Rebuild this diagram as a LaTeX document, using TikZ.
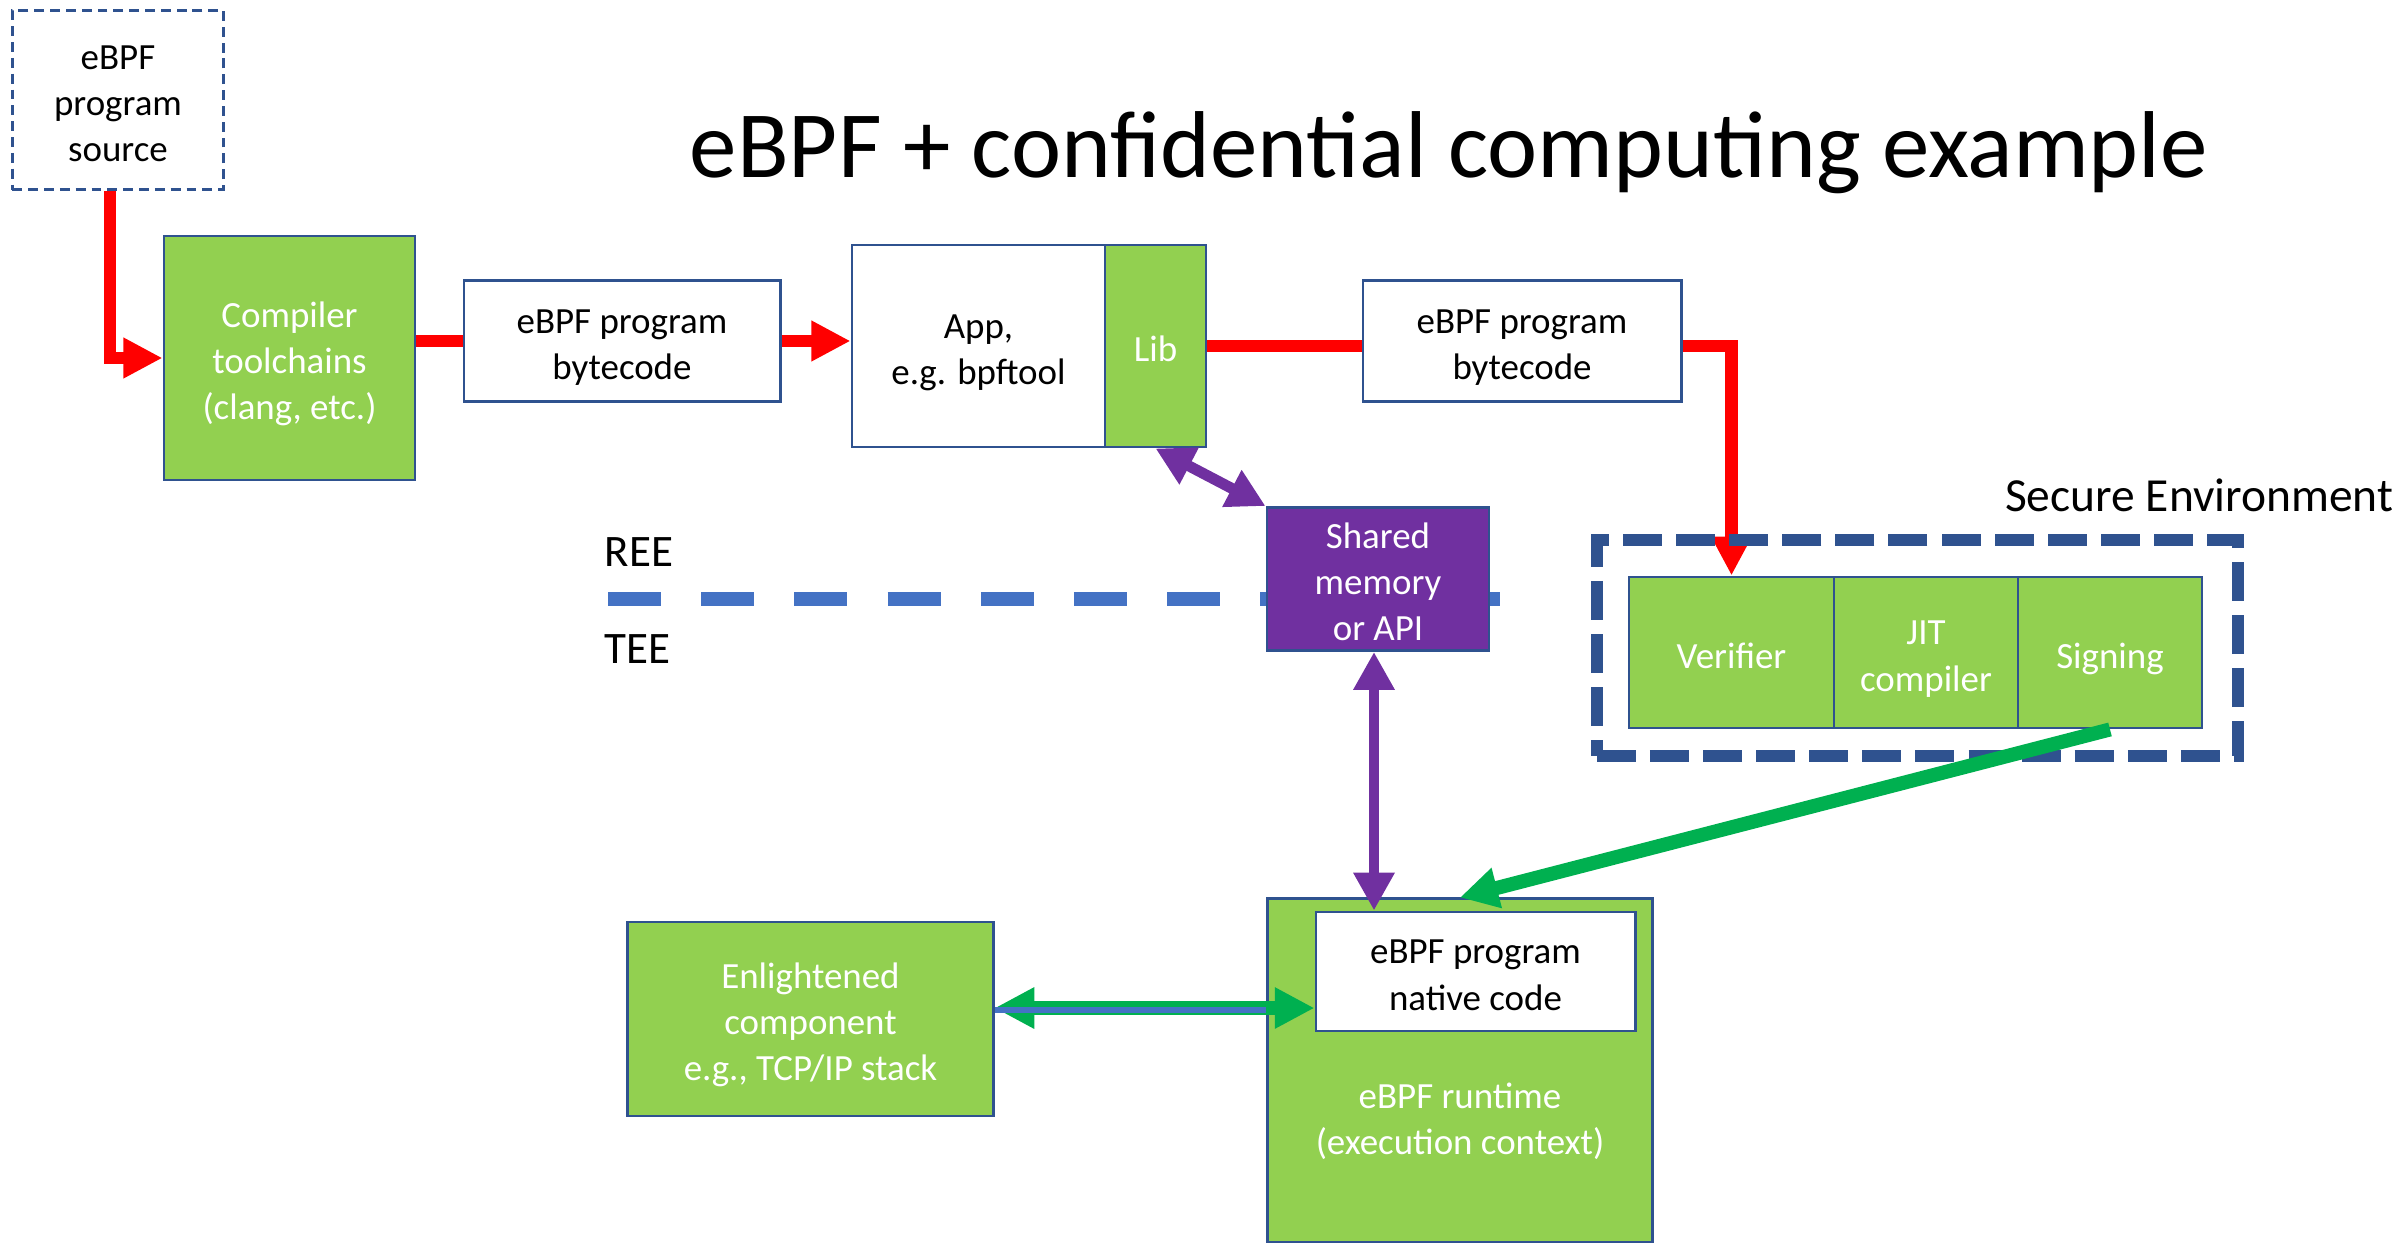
\documentclass[tikz,border=0pt]{standalone}
\usepackage{fontspec}
\setmainfont{Carlito}
\usetikzlibrary{arrows.meta,backgrounds}

\definecolor{boxblue}{HTML}{2F528F}
\definecolor{leafgreen}{HTML}{92D050}
\definecolor{arrowgreen}{HTML}{00B050}
\definecolor{shmpurple}{HTML}{7030A0}
\definecolor{sepblue}{HTML}{4472C4}
\definecolor{flowred}{HTML}{FF0000}

% fixed top and bottom extents so that every label block is centred the same way
\newcommand{\firstlinestrut}{\rule{0pt}{1.09em}}
\newcommand{\lastlinestrut}{\rule[-0.25em]{0pt}{0pt}}
\newcommand{\boxlabel}[1]{\firstlinestrut#1\lastlinestrut}

\tikzset{
  boxtext/.style={font=\fontsize{10.5}{13.2}\selectfont, align=center},
  box/.style={draw=boxblue, line width=0.8pt, inner xsep=2pt, inner ysep=0pt, boxtext},
  whitebox/.style={box, fill=white, text=black},
  greenbox/.style={box, fill=leafgreen, text=white},
  purplebox/.style={box, fill=shmpurple, text=white},
  sidelabel/.style={font=\fontsize{12.8}{15}\selectfont, inner sep=0pt},
  redflow/.style={draw=flowred, line width=3.6pt},
  redarrow/.style={redflow, -{Triangle[length=11.1pt,width=10.8pt]}},
  purplearrow/.style={draw=shmpurple, line width=3.1pt,
    {Triangle[length=10.8pt,width=11.1pt]}-{Triangle[length=10.8pt,width=11.1pt]}},
  greenarrow/.style={draw=arrowgreen, line width=4pt, -{Triangle[length=10.8pt,width=11.1pt]}},
  greendouble/.style={draw=arrowgreen, line width=4pt,
    {Triangle[length=11.3pt,width=11pt]}-{Triangle[length=11.3pt,width=11pt]}},
  innerblue/.style={draw=sepblue, line width=1.7pt},
  sepline/.style={draw=sepblue, line width=3.7pt, dash pattern=on 15.1pt off 11.4pt},
  securebox/.style={draw=boxblue, line width=3.5pt, dash pattern=on 11.1pt off 4pt,
    inner sep=0pt},
}

\begin{document}
\begin{tikzpicture}[x=0.01cm, y=-0.01cm]
\useasboundingbox (0,0) rectangle (2402,1243);

% title
\node[anchor=base, inner sep=0pt, font=\fontsize{27}{31}\selectfont] (title)
  at (1449,178) {eBPF + confidential computing example};

% untrusted side: source, toolchain, loader
\node[whitebox, dashed, line width=0.9pt, dash pattern=on 2.8pt off 1.7pt,
      minimum width=2.11cm, minimum height=1.79cm] (src) at (118,100)
      {\boxlabel{eBPF\\program\\source}};
\node[greenbox, minimum width=2.51cm, minimum height=2.44cm] (comp) at (289.5,358)
      {\boxlabel{Compiler\\toolchains\\(clang, etc.)}};
\node[whitebox, minimum width=3.16cm, minimum height=1.21cm] (bc1) at (622,341)
      {\boxlabel{eBPF program\\bytecode}};
\node[whitebox, minimum width=2.53cm, minimum height=2.02cm] (app) at (978.5,346)
      {\boxlabel{App,\\e.g. bpftool}};
\node[greenbox, minimum width=1.01cm, minimum height=2.02cm] (lib) at (1155.5,346)
      {\boxlabel{Lib}};
\node[whitebox, minimum width=3.18cm, minimum height=1.21cm] (bc2) at (1522,341)
      {\boxlabel{eBPF program\\bytecode}};

% boundary between REE and TEE
\node[sidelabel, anchor=base west] (ree) at (604,567) {REE};
\node[sidelabel, anchor=base west] (tee) at (604,663) {TEE};
\coordinate (sepL) at (608,599);
\coordinate (sepR) at (1501,599);
\node[purplebox, minimum width=2.22cm, minimum height=1.43cm] (shm) at (1378,579)
      {\boxlabel{Shared\\memory\\or API}};
\begin{scope}[on background layer]
  \draw[sepline] (sepL) -- (sepR);
\end{scope}

% secure environment
\node[greenbox, minimum width=2.05cm, minimum height=1.51cm] (ver) at (1731.5,652.5)
      {\boxlabel{Verifier}};
\node[greenbox, minimum width=1.84cm, minimum height=1.51cm] (jit) at (1926,652.5)
      {\boxlabel{JIT\\compiler}};
\node[greenbox, minimum width=1.84cm, minimum height=1.51cm] (sign) at (2110,652.5)
      {\boxlabel{Signing}};
\node[anchor=base east, inner sep=0pt, font=\fontsize{13.5}{16}\selectfont] (selabel)
      at (2394,512) {Secure Environment};

% trusted runtime
\node[greenbox, minimum width=3.84cm, minimum height=3.43cm] (runtime) at (1460,1070.5) {};
\node[boxtext, text=white, inner sep=0pt] (rtlabel) at (1460,1116)
      {\boxlabel{eBPF runtime\\(execution context)}};
\node[whitebox, minimum width=3.19cm, minimum height=1.19cm] (native) at (1475.5,971.5)
      {\boxlabel{eBPF program\\native code}};
\node[greenbox, minimum width=3.65cm, minimum height=1.94cm] (enl) at (810.5,1019)
      {\boxlabel{Enlightened\\component\\e.g., TCP/IP stack}};

% bytecode flow
\draw[redarrow] ([xshift=-0.08cm]src.south) |- (comp.west);
\draw[redflow] (comp.east |- bc1.west) -- (bc1.west);
\draw[redarrow] (bc1.east) -- (bc1.east -| app.west);
\draw[redflow] (lib.east) -- (lib.east -| bc2.west);
\draw[redarrow] (bc2.east |- lib.east) -| (ver.north);

\node[securebox, minimum width=6.41cm, minimum height=2.16cm] (secure) at (1917.5,648) {};

% shared memory links
\draw[purplearrow] (lib.south) -- (shm.north west);
\draw[purplearrow] ([xshift=-0.04cm]shm.south) -- ([xshift=-0.04cm]shm.south |- native.north);

% native code delivery and use
\draw[greenarrow] (sign.south) -- (runtime.north);
\coordinate (linkR) at ([yshift=-0.365cm]native.west);
\draw[greendouble] (enl.east |- linkR) -- (linkR);
\draw[innerblue] ([yshift=-0.015cm]enl.east |- linkR) -- ([yshift=-0.015cm]runtime.west |- linkR);

\end{tikzpicture}
\end{document}
